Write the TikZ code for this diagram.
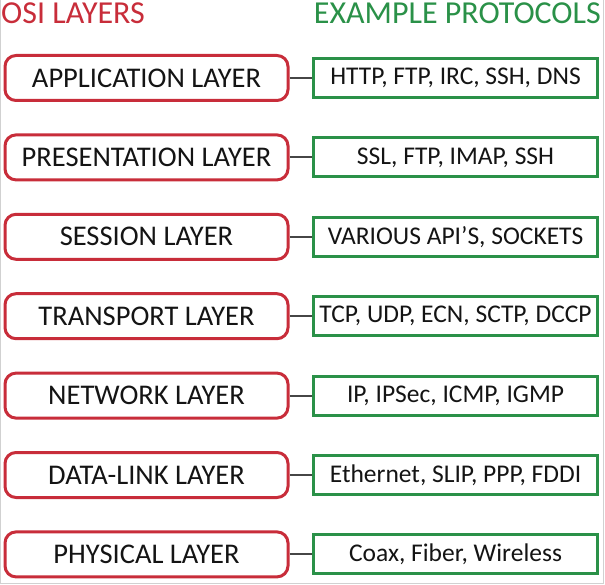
\documentclass[tikz,border=0pt]{standalone}
\usepackage{fontspec}
\setmainfont{Carlito}
\usepackage{xcolor}
\usepackage{tikz}
\usetikzlibrary{positioning}
\definecolor{layerred}{RGB}{200, 45, 58}
\definecolor{protogreen}{RGB}{42, 145, 72}
\definecolor{linkgray}{RGB}{70, 70, 70}
\definecolor{textdark}{RGB}{20, 20, 20}

\begin{document}
\begin{tikzpicture}[
    layer/.style={draw=layerred, line width=3pt, rounded corners=11pt,
                  minimum width=283pt, minimum height=45pt, inner sep=0pt,
                  fill=white, text=textdark, font=\fontsize{28.5}{32}\selectfont},
    proto/.style={draw=protogreen, line width=3pt,
                  minimum width=284pt, minimum height=39pt, inner sep=0pt,
                  fill=white, text=textdark, font=\fontsize{25.5}{30}\selectfont},
    header/.style={font=\fontsize{32}{36}\selectfont, text=#1, inner sep=0pt},
    link/.style={draw=linkgray, line width=2pt}
]
    \useasboundingbox (0,0) rectangle (605pt,-585pt);
    \draw[black!18, line width=1pt] (0.5pt,0) |- (603.5pt,-583.5pt) -- (603.5pt,0);

    \node[header=layerred, anchor=west] (osihead) at (1pt,-13pt) {OSI LAYERS};
    \node[header=protogreen, anchor=east] (protohead) at (601pt,-13pt) {EXAMPLE PROTOCOLS};

    \node[layer] (application) at (146.5pt,-78pt) {APPLICATION LAYER};
    \node[layer, below=31.4pt of application] (presentation) {PRESENTATION LAYER};
    \node[layer, below=31.4pt of presentation] (session) {SESSION LAYER};
    \node[layer, below=31.4pt of session] (transport) {TRANSPORT LAYER};
    \node[layer, below=31.4pt of transport] (network) {NETWORK LAYER};
    \node[layer, below=31.4pt of network] (datalink) {DATA-LINK LAYER};
    \node[layer, below=31.4pt of datalink] (physical) {PHYSICAL LAYER};

    \node[proto, right=22.5pt of application] (appproto) {HTTP, FTP, IRC, SSH, DNS};
    \node[proto, right=22.5pt of presentation] (presproto) {SSL, FTP, IMAP, SSH};
    \node[proto, right=22.5pt of session] (sessproto) {VARIOUS API’S, SOCKETS};
    \node[proto, right=22.5pt of transport] (transproto) {TCP, UDP, ECN, SCTP, DCCP};
    \node[proto, right=22.5pt of network] (netproto) {IP, IPSec, ICMP, IGMP};
    \node[proto, right=22.5pt of datalink] (dlproto) {Ethernet, SLIP, PPP, FDDI};
    \node[proto, right=22.5pt of physical] (physproto) {Coax, Fiber, Wireless};

    \draw[link] (application) -- (appproto);
    \draw[link] (presentation) -- (presproto);
    \draw[link] (session) -- (sessproto);
    \draw[link] (transport) -- (transproto);
    \draw[link] (network) -- (netproto);
    \draw[link] (datalink) -- (dlproto);
    \draw[link] (physical) -- (physproto);
\end{tikzpicture}
\end{document}
